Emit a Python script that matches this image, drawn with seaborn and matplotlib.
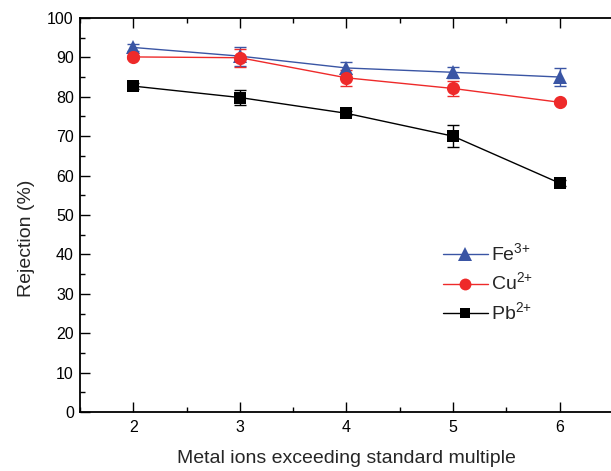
import matplotlib
matplotlib.use("Agg")
import matplotlib.pyplot as plt
from matplotlib.ticker import MultipleLocator
import pandas as pd
import seaborn as sns

# Rejection of metal ions vs. exceedance multiple of the standard
multiples = [2, 3, 4, 5, 6]
fe_rejection = [92.5, 90.3, 87.3, 86.2, 85.0]
cu_rejection = [90.1, 89.9, 84.8, 82.1, 78.6]
pb_rejection = [82.7, 79.8, 75.8, 70.0, 58.1]
fe_err = [1.0, 2.4, 1.5, 1.4, 2.2]
cu_err = [0.5, 2.3, 2.0, 1.9, 0.5]
pb_err = [0.8, 2.0, 0.5, 2.8, 0.8]

series_labels = ["Fe$^{\\mathregular{3{+}}}$", "Cu$^{\\mathregular{2{+}}}$", "Pb$^{\\mathregular{2{+}}}$"]
series_colors = ["#3a55a4", "#ee2a2a", "#000000"]
series_markers = ["^", "o", "s"]
series_sizes = [10.5, 9.5, 8]

sns.set_theme(style="ticks")
plt.rcParams["font.family"] = ["Liberation Sans", "DejaVu Sans"]
plt.rcParams["mathtext.fontset"] = "custom"
plt.rcParams["mathtext.rm"] = "Liberation Sans"

values = [fe_rejection, cu_rejection, pb_rejection]
errors = [fe_err, cu_err, pb_err]
df = pd.DataFrame({
    "multiple": multiples * 3,
    "rejection": fe_rejection + cu_rejection + pb_rejection,
    "ion": sum([[lab] * len(multiples) for lab in series_labels], []),
})

fig = plt.figure(figsize=(6.11, 4.71), dpi=100)
ax = fig.add_axes([0.131, 0.125, 0.872, 0.837])

# error bars drawn underneath the seaborn lines
for vals, errs, col in zip(values, errors, series_colors):
    ax.errorbar(multiples, vals, yerr=errs, fmt="none", ecolor=col,
                elinewidth=1.0, capsize=4, capthick=1.0, zorder=2)

sns.lineplot(data=df, x="multiple", y="rejection", hue="ion", style="ion",
             hue_order=series_labels, style_order=series_labels,
             palette=dict(zip(series_labels, series_colors)),
             markers=dict(zip(series_labels, series_markers)),
             dashes=False, linewidth=1.0, markersize=9, markeredgewidth=0,
             ax=ax, zorder=3, legend=False)

# marker sizes per series
for line, ms in zip(ax.get_lines()[-3:], series_sizes):
    line.set_markersize(ms)

ax.set_xlim(1.5, 6.5)
ax.set_ylim(0, 100)
ax.xaxis.set_major_locator(MultipleLocator(1))
ax.xaxis.set_minor_locator(MultipleLocator(0.5))
ax.yaxis.set_major_locator(MultipleLocator(10))
ax.yaxis.set_minor_locator(MultipleLocator(5))
ax.tick_params(which="both", direction="in", top=True, right=False,
               width=1.0, colors="black", labelsize=11.5)
ax.tick_params(which="major", length=7)
ax.tick_params(which="minor", length=3.5)
ax.tick_params(axis="x", which="major", pad=5.5)
ax.tick_params(axis="y", which="major", pad=4.5)
for sp in ax.spines.values():
    sp.set_linewidth(1.3)
    sp.set_color("black")

ax.set_xlabel("Metal ions exceeding standard multiple", fontsize=14, labelpad=11)
ax.set_ylabel("Rejection (%)", fontsize=14)
ax.yaxis.set_label_coords(-0.085, 0.44)

handles = [plt.Line2D([], [], color=c, marker=m, markersize=s * 0.9, markeredgewidth=0, linewidth=1.0)
           for c, m, s in zip(series_colors, series_markers, series_sizes)]
ax.legend(handles, series_labels, loc="upper left", bbox_to_anchor=(0.648, 0.475),
          frameon=False, fontsize=14, handlelength=2.3, handletextpad=0.2,
          labelspacing=0.35)

fig.savefig("out.png", dpi=100)
